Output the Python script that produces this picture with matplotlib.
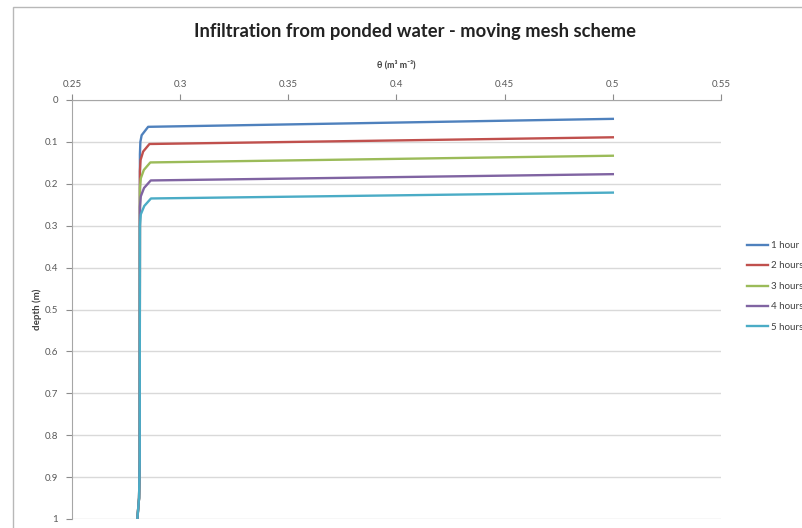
import matplotlib
matplotlib.use("Agg")
import matplotlib.pyplot as plt
from matplotlib.patches import Rectangle

plt.rcParams['font.family'] = ['Lato', 'DejaVu Sans']

series_names = ["1 hour", "2 hours", "3 hours", "4 hours", "5 hours"]
colors = ["#4F81BD", "#C0504D", "#9BBB59", "#8064A2", "#4BACC6"]

theta_1h = [0.5, 0.2852, 0.2822, 0.2816, 0.2814, 0.2813, 0.2810, 0.2802]
depth_1h = [0.045, 0.064, 0.084, 0.100, 0.130, 0.860, 0.950, 1.000]
theta_2h = [0.5, 0.2858, 0.2829, 0.2817, 0.2814, 0.2813, 0.2810, 0.2802]
depth_2h = [0.089, 0.105, 0.123, 0.143, 0.170, 0.860, 0.950, 1.000]
theta_3h = [0.5, 0.2862, 0.2832, 0.2818, 0.2814, 0.2813, 0.2810, 0.2802]
depth_3h = [0.133, 0.149, 0.167, 0.187, 0.210, 0.860, 0.950, 1.000]
theta_4h = [0.5, 0.2864, 0.2833, 0.2818, 0.2814, 0.2813, 0.2810, 0.2802]
depth_4h = [0.177, 0.192, 0.210, 0.230, 0.255, 0.860, 0.950, 1.000]
theta_5h = [0.5, 0.2865, 0.2834, 0.2818, 0.2814, 0.2813, 0.2810, 0.2802]
depth_5h = [0.221, 0.235, 0.253, 0.273, 0.300, 0.860, 0.950, 1.000]

thetas = [theta_1h, theta_2h, theta_3h, theta_4h, theta_5h]
depths = [depth_1h, depth_2h, depth_3h, depth_4h, depth_5h]

x_ticks = [0.25, 0.3, 0.35, 0.4, 0.45, 0.5, 0.55]
x_tick_labels = ["0.25", "0.3", "0.35", "0.4", "0.45", "0.5", "0.55"]
y_ticks = [0, 0.1, 0.2, 0.3, 0.4, 0.5, 0.6, 0.7, 0.8, 0.9, 1.0]
y_tick_labels = ["0", "0.1", "0.2", "0.3", "0.4", "0.5", "0.6", "0.7", "0.8", "0.9", "1"]

fig = plt.figure(figsize=(8.03, 5.28), dpi=100)
fig.patches.append(Rectangle((13/803, -0.1), 1.0, 1 - 7/528 + 0.1, transform=fig.transFigure,
                             fill=False, edgecolor="#b8b8b8", linewidth=1.0))

ax = fig.add_axes([72/803, 1 - 519/528, (721-72)/803, (519-100)/528])
for th, d, c, n in zip(thetas, depths, colors, series_names):
    ax.plot(th, d, color=c, linewidth=1.7, label=n, solid_joinstyle='round')

ax.set_xlim(0.25, 0.55)
ax.set_ylim(1.0, 0.0)
ax.xaxis.tick_top()
ax.xaxis.set_label_position('top')
ax.set_xticks(x_ticks)
ax.set_xticklabels(x_tick_labels)
ax.set_yticks(y_ticks)
ax.set_yticklabels(y_tick_labels)
ax.tick_params(axis='both', labelsize=7, colors="#8c8c8c", labelcolor="#595959",
               length=4, width=0.8, pad=6)
ax.tick_params(axis='x', pad=4)
ax.yaxis.grid(True, color="#d9d9d9", linewidth=1.0)
ax.set_axisbelow(True)
for s in ['right', 'bottom']:
    ax.spines[s].set_visible(False)
for s in ['top', 'left']:
    ax.spines[s].set_color("#a6a6a6")
    ax.spines[s].set_linewidth(0.8)

ax.set_xlabel("θ (m³ m⁻³)", fontsize=6.5, fontweight='bold', color="#404040", labelpad=9)
ax.set_ylabel("depth (m)", fontsize=7, fontweight='bold', color="#404040", labelpad=2)

fig.text(415/803, 1 - 31/528, "Infiltration from ponded water - moving mesh scheme",
         ha='center', va='center', fontsize=13.2, fontweight='bold', color="#222222")

leg = fig.legend(loc='upper left', bbox_to_anchor=(747/803, 1 - 241/528), frameon=False,
                 fontsize=7, handlelength=2.2, handletextpad=0.3, labelspacing=1.18,
                 borderaxespad=0, borderpad=0, labelcolor="#404040")

fig.savefig("out.png", dpi=100)
